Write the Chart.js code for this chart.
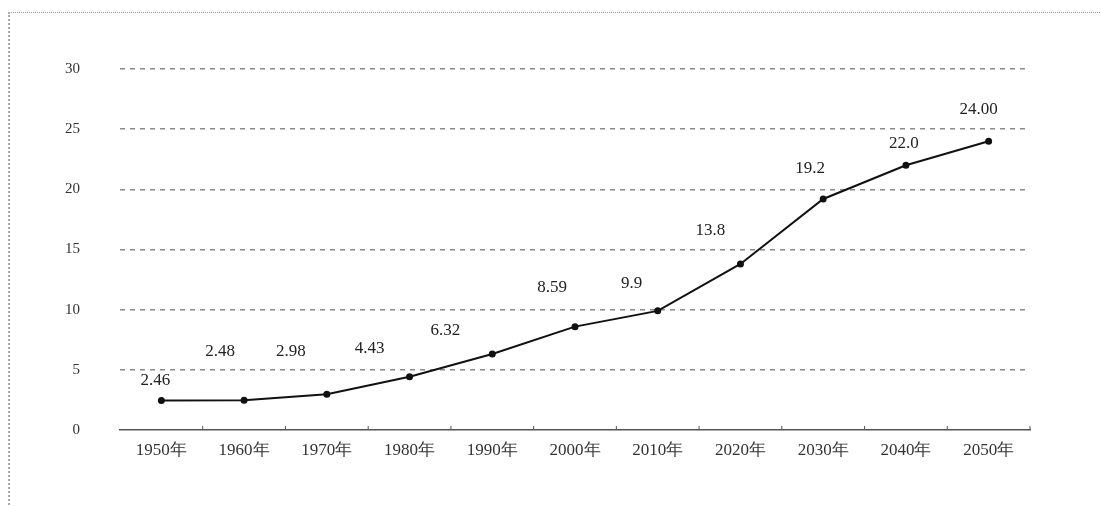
<!DOCTYPE html>
<html><head><meta charset="utf-8">
<script src="https://cdn.jsdelivr.net/npm/chart.js@4"></script>
<style>
html,body{margin:0;padding:0;background:#fff;}
#wrap{position:relative;width:1101px;height:507px;}
#frame{position:absolute;left:8px;top:12px;width:1100px;height:500px;border-left:2px dotted #aaa;border-top:1px dotted #999;box-sizing:border-box;}
canvas{position:absolute;left:0;top:0;}
</style></head><body>
<div id="wrap"><div id="frame"></div><canvas id="c" width="1101" height="507"></canvas></div>
<script>
const categories = ['1950年','1960年','1970年','1980年','1990年','2000年','2010年','2020年','2030年','2040年','2050年'];
const values = [2.46, 2.48, 2.98, 4.43, 6.32, 8.59, 9.9, 13.8, 19.2, 22.0, 24.00];
const valueLabels = ['2.46','2.48','2.98','4.43','6.32','8.59','9.9','13.8','19.2','22.0','24.00'];
const yTicks = [0, 5, 10, 15, 20, 25, 30];

const labelOffsets = [[-6,-20],[-24,-49],[-36,-43],[-40,-28],[-47,-23],[-23,-39],[-26,-27],[-30,-33],[-13,-30],[-2,-22],[-10,-32]];

const labelPlugin = {
  id: 'valLabels',
  afterDatasetsDraw(chart) {
    const ctx = chart.ctx;
    const meta = chart.getDatasetMeta(0);
    ctx.save();
    ctx.font = '17px "Liberation Serif", serif';
    ctx.fillStyle = '#222';
    ctx.textAlign = 'center';
    ctx.textBaseline = 'middle';
    meta.data.forEach((pt, i) => {
      const o = labelOffsets[i];
      ctx.fillText(valueLabels[i], pt.x + o[0], pt.y + o[1]);
    });
    ctx.restore();
  }
};

const tickPlugin = {
  id: 'upTicks',
  afterDraw(chart) {
    const x = chart.scales.x, y = chart.scales.y;
    const ctx = chart.ctx;
    const base = y.getPixelForValue(0);
    const step = x.getPixelForValue(1) - x.getPixelForValue(0);
    ctx.save();
    ctx.strokeStyle = '#555';
    ctx.lineWidth = 1;
    ctx.beginPath();
    for (let i = 0; i < categories.length; i++) {
      const px = x.getPixelForValue(i) + step / 2;
      ctx.moveTo(px, base);
      ctx.lineTo(px, base - 4);
    }
    ctx.stroke();
    ctx.restore();
  }
};

new Chart(document.getElementById('c'), {
  type: 'line',
  data: {
    labels: categories,
    datasets: [{
      data: values,
      borderColor: '#111',
      borderWidth: 2,
      pointRadius: 2.5,
      pointBackgroundColor: '#111',
      pointBorderColor: '#111',
      tension: 0,
      fill: false
    }]
  },
  options: {
    responsive: false,
    animation: false,
    layout: { padding: { top: 69, right: 71, bottom: 0, left: 0 } },
    plugins: { legend: { display: false }, tooltip: { enabled: false } },
    scales: {
      x: {
        offset: true,
        grid: { display: false },
        border: { display: true, color: '#555', width: 1.5 },
        ticks: { color: '#333', font: { family: '"Liberation Serif", serif', size: 17 }, padding: 2, maxRotation: 0 },
        afterFit(s) { s.height = 77; }
      },
      y: {
        min: 0, max: 30,
        afterBuildTicks(s) { s.ticks = yTicks.map(v => ({ value: v })); },
        grid: {
          color: (c) => c.tick && c.tick.value === 0 ? 'rgba(0,0,0,0)' : '#8a8a8a',
          lineWidth: 1.5,
          drawTicks: false
        },
        border: { display: false, dash: [5, 5] },
        ticks: { color: '#333', font: { family: '"Liberation Serif", serif', size: 15 }, padding: 40 },
        afterFit(s) { s.width = 120; }
      }
    }
  },
  plugins: [labelPlugin, tickPlugin]
});
</script>
</body></html>
